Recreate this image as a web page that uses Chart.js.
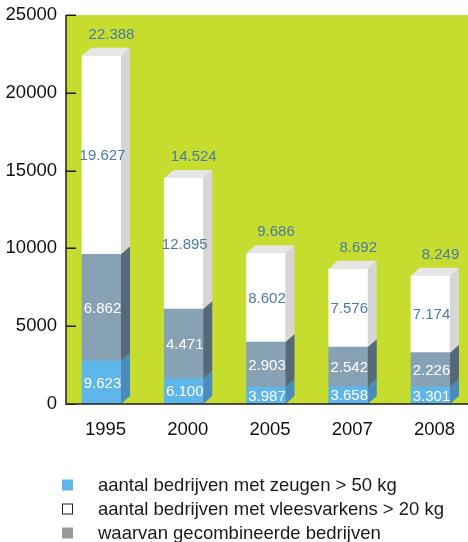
<!DOCTYPE html>
<html>
<head>
<meta charset="utf-8">
<script src="https://cdn.jsdelivr.net/npm/chart.js@4/dist/chart.umd.min.js"></script>
<style>
  html, body { margin: 0; padding: 0; background: #fff; overflow: hidden; }
  #wrap { width: 468px; height: 542px; }
</style>
</head>
<body>
<div id="wrap"><canvas id="chart" width="468" height="542"></canvas></div>
<script>
// gegevens uit de grafiek
const jaren = ['1995', '2000', '2005', '2007', '2008'];
const zeugen = [9623, 6100, 3987, 3658, 3301];           // bedrijven met zeugen > 50 kg
const vleesvarkens = [19627, 12895, 8602, 7576, 7174];   // bedrijven met vleesvarkens > 20 kg
const gecombineerd = [6862, 4471, 2903, 2542, 2226];     // waarvan gecombineerde bedrijven
const totaal = [22388, 14524, 9686, 8692, 8249];
const yTicks = [0, 5000, 10000, 15000, 20000, 25000];
const legendaTeksten = [
    'aantal bedrijven met zeugen > 50 kg',
    'aantal bedrijven met vleesvarkens > 20 kg',
    'waarvan gecombineerde bedrijven'
];

const FONT = "'Liberation Sans', Arial, Helvetica, sans-serif";
const DX = 9, DY = 8; // diepte van de 3D-balken

// stukken van de stapel: alleen zeugen, gecombineerd, alleen vleesvarkens
const alleenZeugen = zeugen.map((v, i) => v - gecombineerd[i]);
const alleenVlees = vleesvarkens.map((v, i) => v - gecombineerd[i]);

function fmt(v) {
    return String(v).replace(/\B(?=(\d{3})+(?!\d))/g, '.');
}

const punten = arr => arr.map((v, i) => ({ x: i, y: v }));

const lagen = [
    { front: '#5fb6ea', side: '#4a8bbd', labels: zeugen, labelColor: '#ffffff' },
    { front: '#87a1b5', side: '#566979', labels: gecombineerd, labelColor: '#ffffff' },
    { front: '#ffffff', side: '#d6d6d6', labels: vleesvarkens, labelColor: '#4b7ba3' }
];

// plugin voor achtergrond, 3D-zijkanten, assen, labels en legenda
const kubusPlugin = {
    id: 'kubus',
    beforeDatasetsDraw(chart) {
        const { ctx, chartArea } = chart;
        ctx.save();
        ctx.fillStyle = '#c6dc2f';
        ctx.fillRect(chartArea.left, chartArea.top, chart.width - chartArea.left, chartArea.bottom - chartArea.top);
        ctx.restore();
    },
    afterDatasetsDraw(chart) {
        const { ctx, chartArea } = chart;
        const y = chart.scales.y;
        ctx.save();

        // zijkanten en bovenkant
        chart.data.datasets.forEach((ds, d) => {
            const meta = chart.getDatasetMeta(d);
            meta.data.forEach(bar => {
                const r = bar.x + bar.width / 2;
                const l = bar.x - bar.width / 2;
                ctx.fillStyle = lagen[d].side;
                ctx.beginPath();
                ctx.moveTo(r, bar.y);
                ctx.lineTo(r + DX, bar.y - DY);
                ctx.lineTo(r + DX, bar.base - DY);
                ctx.lineTo(r, bar.base);
                ctx.closePath();
                ctx.fill();
                if (d === chart.data.datasets.length - 1) {
                    ctx.fillStyle = '#e6e6e6';
                    ctx.beginPath();
                    ctx.moveTo(l, bar.y);
                    ctx.lineTo(l + DX, bar.y - DY);
                    ctx.lineTo(r + DX, bar.y - DY);
                    ctx.lineTo(r, bar.y);
                    ctx.closePath();
                    ctx.fill();
                }
            });
        });

        // waarden in de balken
        ctx.font = '15px ' + FONT;
        ctx.textAlign = 'center';
        ctx.textBaseline = 'middle';
        chart.data.datasets.forEach((ds, d) => {
            const meta = chart.getDatasetMeta(d);
            meta.data.forEach((bar, i) => {
                ctx.fillStyle = lagen[d].labelColor;
                ctx.fillText(fmt(lagen[d].labels[i]), bar.x + 1, (bar.y + bar.base) / 2 + 1);
            });
        });

        // totalen boven de balken
        const top = chart.getDatasetMeta(chart.data.datasets.length - 1);
        ctx.fillStyle = '#4b7ba3';
        top.data.forEach((bar, i) => {
            ctx.fillText(fmt(totaal[i]), bar.x + DX + 1, bar.y - DY - 13);
        });

        // assen en maatstreepjes
        ctx.strokeStyle = '#1e1e1e';
        ctx.lineWidth = 1.5;
        ctx.beginPath();
        ctx.moveTo(chartArea.left, chartArea.top);
        ctx.lineTo(chartArea.left, chartArea.bottom);
        ctx.lineTo(chart.width, chartArea.bottom);
        yTicks.forEach(t => {
            const py = Math.round(y.getPixelForValue(t)) + 0.25;
            ctx.moveTo(chartArea.left, py);
            ctx.lineTo(chartArea.left + 10, py);
        });
        ctx.stroke();

        // legenda
        const rijen = [485, 509, 533];
        ctx.font = '18.5px ' + FONT;
        ctx.textAlign = 'left';
        ctx.textBaseline = 'middle';
        legendaTeksten.forEach((tekst, i) => {
            const ry = rijen[i];
            if (i === 0) {
                ctx.fillStyle = '#5fb6ea';
                ctx.fillRect(62, ry - 5.5, 11, 11);
            } else if (i === 1) {
                ctx.fillStyle = '#ffffff';
                ctx.fillRect(62, ry - 5.5, 11, 11);
                ctx.strokeStyle = '#1e1e1e';
                ctx.lineWidth = 1;
                ctx.strokeRect(62.5, ry - 5, 10, 10);
            } else {
                ctx.fillStyle = '#9a9a9a';
                ctx.fillRect(62, ry - 5.5, 11, 11);
            }
            ctx.fillStyle = '#1a1a1a';
            ctx.fillText(tekst, 98, ry + 1);
        });

        ctx.restore();
    }
};

new Chart(document.getElementById('chart').getContext('2d'), {
    type: 'bar',
    data: {
        datasets: [
            { label: legendaTeksten[0], data: punten(alleenZeugen), backgroundColor: lagen[0].front },
            { label: legendaTeksten[2], data: punten(gecombineerd), backgroundColor: lagen[1].front },
            { label: legendaTeksten[1], data: punten(alleenVlees), backgroundColor: lagen[2].front }
        ]
    },
    options: {
        responsive: false,
        animation: false,
        devicePixelRatio: 1,
        barThickness: 39,
        borderWidth: 0,
        layout: { padding: { top: 15, right: 0, bottom: 0, left: 0 } },
        plugins: {
            legend: { display: false },
            tooltip: { enabled: false }
        },
        scales: {
            x: {
                type: 'linear',
                stacked: true,
                offset: false,
                min: -0.4316,
                max: 4.456,
                grid: { display: false, drawTicks: false },
                border: { display: false },
                afterBuildTicks: s => { s.ticks = jaren.map((j, i) => ({ value: i })); },
                afterFit: s => { s.height = 138; s.paddingLeft = 0; s.paddingRight = 0; },
                ticks: {
                    callback: v => jaren[v],
                    font: { family: FONT, size: 18.5 },
                    color: '#111',
                    padding: 15,
                    labelOffset: 4,
                    maxRotation: 0,
                    autoSkip: false
                }
            },
            y: {
                stacked: true,
                min: 0,
                max: 25000,
                grid: { display: false, drawTicks: false },
                border: { display: false },
                afterBuildTicks: s => { s.ticks = yTicks.map(v => ({ value: v })); },
                afterFit: s => { s.width = 66; s.paddingTop = 0; s.paddingBottom = 0; },
                ticks: {
                    callback: v => String(v),
                    font: { family: FONT, size: 18.5 },
                    color: '#111',
                    padding: 9
                }
            }
        }
    },
    plugins: [kubusPlugin]
});
</script>
</body>
</html>
